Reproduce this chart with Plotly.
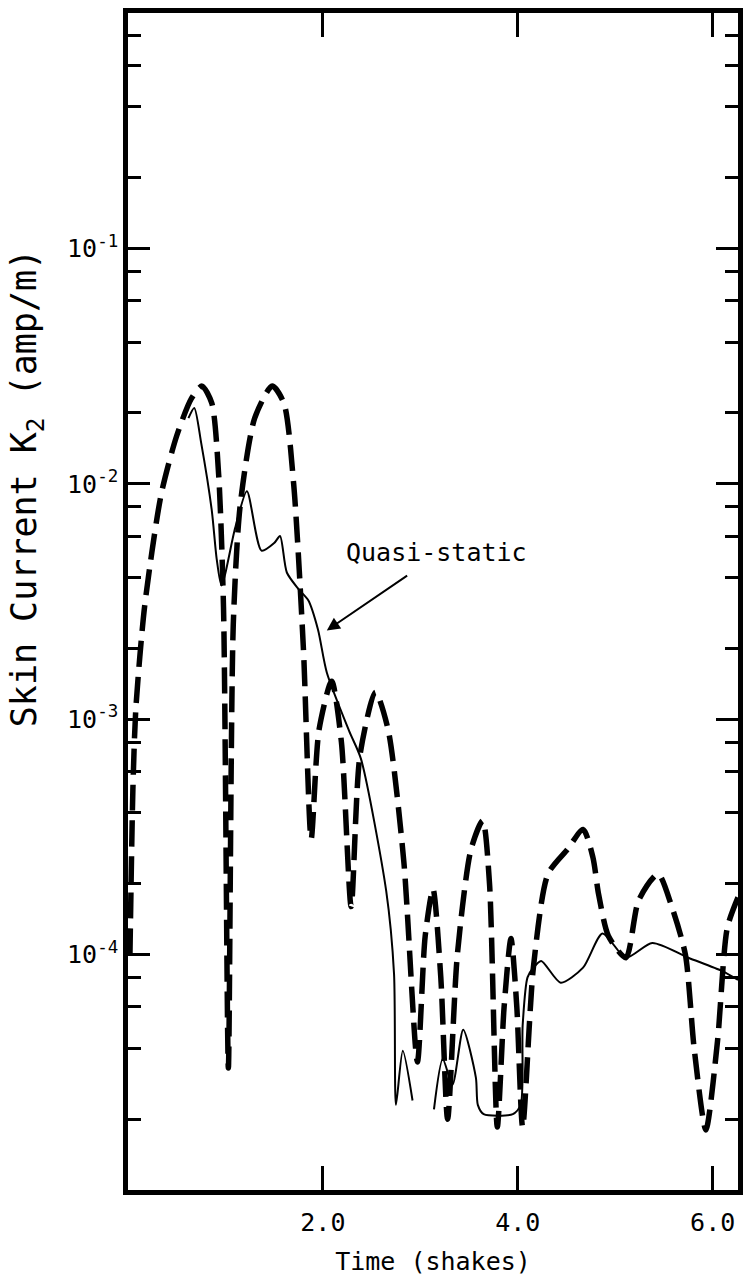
import plotly.graph_objects as go

# Time in shakes, skin current K2 in amp/m
t_full = [0.02, 0.05, 0.08, 0.17, 0.34, 0.50, 0.65, 0.76, 0.86, 0.93, 0.98, 1.03,
          1.08, 1.15, 1.30, 1.48, 1.60, 1.70, 1.80, 1.88, 1.96, 2.09, 2.19, 2.29,
          2.38, 2.54, 2.67, 2.83, 2.97, 3.05, 3.13, 3.21, 3.28, 3.38, 3.52, 3.64,
          3.71, 3.79, 3.86, 3.93, 3.99, 4.05, 4.16, 4.31, 4.51, 4.67, 4.77, 4.83,
          4.93, 5.11, 5.24, 5.44, 5.58, 5.72, 5.81, 5.93, 6.05, 6.15, 6.26]
k_full = [1.0e-4, 5e-4, 1.1e-3, 3e-3, 9e-3, 1.6e-2, 2.3e-2, 2.6e-2, 2.2e-2, 1.1e-2, 3e-3, 3.3e-5,
          2.5e-3, 8e-3, 1.9e-2, 2.6e-2, 2.2e-2, 1.0e-2, 2e-3, 3.1e-4, 9e-4, 1.45e-3, 8e-4, 1.6e-4,
          7e-4, 1.3e-3, 9e-4, 2.5e-4, 3.5e-5, 1.2e-4, 1.9e-4, 8e-5, 2e-5, 1e-4, 2.8e-4, 3.7e-4,
          2e-4, 1.85e-5, 6e-5, 1.17e-4, 6e-5, 1.85e-5, 8.8e-5, 2.2e-4, 2.8e-4, 3.4e-4, 2.6e-4, 1.8e-4,
          1.2e-4, 9.7e-5, 1.7e-4, 2.2e-4, 1.6e-4, 1.0e-4, 4e-5, 1.8e-5, 4.3e-5, 1.3e-4, 1.75e-4]

t_qs = [0.62, 0.68, 0.75, 0.86, 0.91, 0.96, 1.10, 1.22, 1.37, 1.50, 1.56, 1.63,
        1.75, 1.85, 1.95, 2.04, 2.27, 2.39, 2.65, 2.73, 2.75, 2.82, 2.92, None,
        3.14, 3.23, 3.33, 3.44, 3.57, 3.59, 3.65, 3.95, 4.03, 4.05, 4.10, 4.16,
        4.24, 4.44, 4.67, 4.87, 5.11, 5.38, 5.75, 6.10, 6.26]
k_qs = [1.9e-2, 2.1e-2, 1.5e-2, 7.7e-3, 4.8e-3, 3.7e-3, 6.5e-3, 9.3e-3, 5.2e-3, 5.6e-3, 6e-3, 4.2e-3,
        3.57e-3, 3.2e-3, 2.4e-3, 1.58e-3, 8.9e-4, 6.8e-4, 1.86e-4, 8.3e-5, 2.3e-5, 3.9e-5, 2.4e-5, None,
        2.2e-5, 3.6e-5, 2.8e-5, 4.8e-5, 3e-5, 2.3e-5, 2.1e-5, 2.1e-5, 2.3e-5, 5e-5, 8e-5, 8.8e-5,
        9.4e-5, 7.6e-5, 8.8e-5, 1.23e-4, 9.7e-5, 1.12e-4, 9.7e-5, 8.5e-5, 7.8e-5]

x_ticks = [2.0, 4.0, 6.0]
x_tick_text = ["2.0", "4.0", "6.0"]
y_ticks = [1e-4, 1e-3, 1e-2, 1e-1]
y_tick_text = ["10<sup>-4</sup>", "10<sup>-3</sup>", "10<sup>-2</sup>", "10<sup>-1</sup>"]
y_minor = [m * 10.0 ** d for d in range(-5, 0) for m in (2, 4, 6, 8)]

FONT = "DejaVu Sans Mono"

fig = go.Figure()
fig.add_trace(go.Scatter(
    x=t_full, y=k_full, mode="lines",
    line=dict(color="black", width=5.5, dash="26px,10px", shape="spline", smoothing=0.7),
    showlegend=False, hoverinfo="skip"))
fig.add_trace(go.Scatter(
    x=t_qs, y=k_qs, mode="lines", connectgaps=False,
    line=dict(color="black", width=2, shape="spline", smoothing=0.7),
    showlegend=False, hoverinfo="skip"))

axis_common = dict(
    showline=True, linewidth=4.5, linecolor="black", mirror="ticks",
    ticks="inside", tickcolor="black", showgrid=False, zeroline=False,
    tickfont=dict(family=FONT, size=25, color="black"),
)

fig.update_xaxes(
    range=[0, 6.26], tickmode="array", tickvals=x_ticks, ticktext=x_tick_text,
    ticklen=24, tickwidth=3, ticklabelstandoff=6,
    title=dict(text="Time (shakes)", font=dict(family=FONT, size=25, color="black"), standoff=18),
    **axis_common)
fig.update_yaxes(
    type="log", range=[-5, 0], tickmode="array", tickvals=y_ticks, ticktext=y_tick_text,
    ticklen=22, tickwidth=3, ticklabelstandoff=0,
    minor=dict(tickmode="array", tickvals=y_minor, ticks="inside", ticklen=13, tickwidth=3, tickcolor="black"),
    **axis_common)

fig.add_annotation(
    text="Skin Current K<sub>2</sub> (amp/m)", textangle=-90,
    xref="paper", yref="paper", x=-0.166, y=0.596, xanchor="center", yanchor="middle",
    showarrow=False, font=dict(family=FONT, size=35, color="black"))

fig.add_annotation(
    text="Quasi-static", xref="x", yref="y", x=3.17, y=-2.293,
    xanchor="center", yanchor="middle", showarrow=False,
    font=dict(family=FONT, size=25, color="black"))
fig.add_annotation(
    text="", xref="x", yref="y", x=2.04, y=-2.623,
    axref="x", ayref="y", ax=2.88, ay=-2.386,
    showarrow=True, arrowhead=2, arrowsize=1.3, arrowwidth=2, arrowcolor="black")

fig.update_layout(
    width=751, height=1285,
    margin=dict(l=128, r=13, t=8, b=95),
    paper_bgcolor="white", plot_bgcolor="white",
)

fig.write_html("out.html")
